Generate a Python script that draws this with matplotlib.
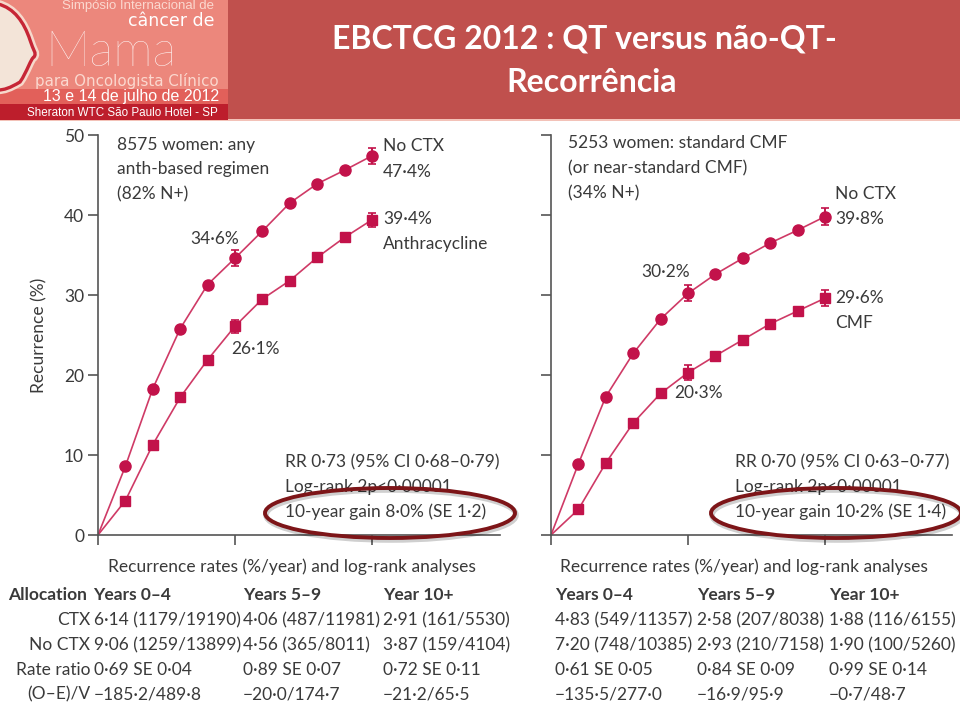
import matplotlib
matplotlib.use("Agg")
import matplotlib.pyplot as plt
from matplotlib.patches import Rectangle, Ellipse, PathPatch
from matplotlib.path import Path

# ---------------- data ----------------
years = [0, 1, 2, 3, 4, 5, 6, 7, 8, 9, 10]
left_noctx = [0, 8.6, 18.3, 25.8, 31.3, 34.6, 38.0, 41.5, 43.9, 45.6, 47.4]
left_anth = [0, 4.3, 11.3, 17.2, 21.9, 26.1, 29.5, 31.8, 34.7, 37.2, 39.4]
right_noctx = [0, 8.9, 17.3, 22.7, 27.0, 30.2, 32.6, 34.6, 36.5, 38.1, 39.8]
right_cmf = [0, 3.2, 9.0, 14.0, 17.7, 20.3, 22.4, 24.4, 26.4, 28.0, 29.6]
err_years = [5, 10]
left_noctx_err = [1.0, 1.0]
left_anth_err = [0.8, 0.9]
right_noctx_err = [1.0, 1.1]
right_cmf_err = [0.9, 1.0]
yticks = [0, 10, 20, 30, 40, 50]
xticks = [0, 5, 10]

left_header = ["Allocation", "Years 0\u20134", "Years 5\u20139", "Year 10+"]
row_labels = ["CTX", "No CTX", "Rate ratio", "(O\u2013E)/V"]
left_rows = [
    ["6\u00b714 (1179/19190)", "4\u00b706 (487/11981)", "2\u00b791 (161/5530)"],
    ["9\u00b706 (1259/13899)", "4\u00b756 (365/8011)", "3\u00b787 (159/4104)"],
    ["0\u00b769 SE 0\u00b704", "0\u00b789 SE 0\u00b707", "0\u00b772 SE 0\u00b711"],
    ["\u2212185\u00b72/489\u00b78", "\u221220\u00b70/174\u00b77", "\u221221\u00b72/65\u00b75"],
]
right_header = ["Years 0\u20134", "Years 5\u20139", "Year 10+"]
right_rows = [
    ["4\u00b783 (549/11357)", "2\u00b758 (207/8038)", "1\u00b788 (116/6155)"],
    ["7\u00b720 (748/10385)", "2\u00b793 (210/7158)", "1\u00b790 (100/5260)"],
    ["0\u00b761 SE 0\u00b705", "0\u00b784 SE 0\u00b709", "0\u00b799 SE 0\u00b714"],
    ["\u2212135\u00b75/277\u00b70", "\u221216\u00b79/95\u00b79", "\u22120\u00b77/48\u00b77"],
]

W, H = 960, 707
fig = plt.figure(figsize=(W / 100, H / 100), dpi=100)
fig.patch.set_facecolor("white")


def fx(x):
    return x / W


def fy(y):
    return 1 - y / H


FONT = ["Lato", "DejaVu Sans"]
TXT = "#3a3a3a"
RED = "#c2124a"
LINE = "#cf3a66"

# ---------------- header ----------------
fig.patches.append(Rectangle((0, fy(120)), 1, 120 / H, transform=fig.transFigure,
                             facecolor="#c0504d", edgecolor="none", zorder=0))
fig.patches.append(Rectangle((0, fy(121)), 1, 2 / H, transform=fig.transFigure,
                             facecolor="#f3c2b8", edgecolor="none", zorder=0))
# logo
fig.patches.append(Rectangle((0, fy(120)), fx(228), 120 / H, transform=fig.transFigure,
                             facecolor="#ec877c", edgecolor="none", zorder=1))
fig.patches.append(Rectangle((0, fy(104)), fx(228), 15 / H, transform=fig.transFigure,
                             facecolor="#e2605a", edgecolor="none", zorder=1))
fig.patches.append(Rectangle((0, fy(120)), fx(228), 16 / H, transform=fig.transFigure,
                             facecolor="#bd1e2c", edgecolor="none", zorder=1))


def P(x, y):
    return (fx(x), fy(y))


verts = [P(-2, 4), P(14, 8), P(24, 22), P(30, 40), P(33, 50), P(37, 53),
         P(34, 57), P(31, 58), P(27, 72), P(20, 82), P(10, 88), P(4, 90), P(-2, 90), P(-2, 4)]
codes = [Path.MOVETO, Path.CURVE4, Path.CURVE4, Path.CURVE4, Path.CURVE4, Path.CURVE4,
         Path.CURVE4, Path.CURVE4, Path.CURVE4, Path.CURVE4, Path.CURVE4, Path.CURVE4,
         Path.LINETO, Path.CLOSEPOLY]
path = Path(verts, codes)
fig.patches.append(PathPatch(path, transform=fig.transFigure, facecolor="none",
                             edgecolor="#f6d9cc", lw=6, zorder=2))
fig.patches.append(PathPatch(path, transform=fig.transFigure, facecolor="#f3e4d8",
                             edgecolor="#c62636", lw=2.4, zorder=2))

fig.text(fx(214), fy(6.5), "Simp\u00f3sio Internacional de", ha="right", va="center",
         fontsize=9.5, color="#fbd8cf", family=["Liberation Sans", "DejaVu Sans"], zorder=3)
fig.text(fx(214), fy(21.5), "c\u00e2ncer de", ha="right", va="center",
         fontsize=12.5, color="white", family=["DejaVu Sans"], zorder=3)
fig.text(fx(45), fy(66), "Mama", ha="left", va="baseline",
         fontsize=36, color="white", family=["Lato", "DejaVu Sans"], fontweight="light", zorder=3)
fig.text(fx(219), fy(81), "para Oncologista Cl\u00ednico", ha="right", va="center",
         fontsize=10.8, color="#fbd8cf", family=["DejaVu Sans"], zorder=3)
fig.text(fx(219), fy(96.5), "13 e 14 de julho de 2012", ha="right", va="center",
         fontsize=11.5, color="white", family=["Liberation Sans", "DejaVu Sans"], zorder=3)
fig.text(fx(218), fy(112.5), "Sheraton WTC S\u00e3o Paulo Hotel - SP", ha="right", va="center",
         fontsize=8.4, color="white", family=["Liberation Sans", "DejaVu Sans"], zorder=3)

# title
fig.text(fx(584), fy(39), "EBCTCG 2012 : QT versus n\u00e3o-QT-", ha="center", va="center",
         fontsize=23, color="white", fontweight="bold", family=["Lato", "DejaVu Sans"], zorder=3)
fig.text(fx(592), fy(83), "Recorr\u00eancia", ha="center", va="center",
         fontsize=23, color="white", fontweight="bold", family=["Lato", "DejaVu Sans"], zorder=3)


# ---------------- panels ----------------
def make_ax(x0, x1):
    ax = fig.add_axes([fx(x0), fy(535), fx(x1 - x0), 400 / H])
    ax.set_xlim(0, (x1 - x0) / 27.4)
    ax.set_ylim(0, 50)
    for s in ["top", "right"]:
        ax.spines[s].set_visible(False)
    for s in ["left", "bottom"]:
        ax.spines[s].set_color("#555555")
        ax.spines[s].set_linewidth(1.2)
    ax.set_xticks(xticks)
    ax.set_xticklabels([])
    ax.set_yticks(yticks)
    ax.tick_params(direction="out", length=7, width=1.2, color="#555555",
                   labelsize=12.5, labelcolor=TXT, pad=3)
    ax.patch.set_alpha(0)
    for lab in ax.get_yticklabels():
        lab.set_family(FONT)
    return ax


def draw_series(ax, y_vals, marker, ms, errs):
    ax.plot(years, y_vals, color=LINE, lw=1.2, zorder=2)
    ax.plot(years[1:], y_vals[1:], ls="none", marker=marker, ms=ms,
            color=RED, mec=RED, zorder=3)
    ev = [y_vals[years.index(e)] for e in err_years]
    ax.errorbar(err_years, ev, yerr=errs, fmt="none", ecolor=RED, elinewidth=1.4,
                capsize=3, capthick=1.2, zorder=3)


axL = make_ax(98, 500)
draw_series(axL, left_noctx, "o", 8, left_noctx_err)
draw_series(axL, left_anth, "s", 7, left_anth_err)
axL.set_ylabel("Recurrence (%)", fontsize=12.5, color=TXT, family=FONT, labelpad=12)

axR = make_ax(551, 952)
draw_series(axR, right_noctx, "o", 8, right_noctx_err)
draw_series(axR, right_cmf, "s", 7, right_cmf_err)
axR.set_yticklabels([])

FS = 12.5


def t(x, y, s, **kw):
    d = dict(ha="left", va="center", fontsize=FS, color=TXT, family=FONT)
    d.update(kw)
    fig.text(fx(x), fy(y), s, **d)


# left annotations
t(117, 145, "8575 women: any")
t(117, 169, "anth-based regimen")
t(117, 194, "(82% N+)")
t(383, 146, "No CTX")
t(383, 172, "47\u00b74%")
t(383, 219, "39\u00b74%")
t(383, 244, "Anthracycline")
t(190, 239, "34\u00b76%")
t(231, 349, "26\u00b71%")
t(285, 462, "RR 0\u00b773 (95% CI 0\u00b768\u20130\u00b779)")
t(285, 487, "Log-rank 2p<0\u00b700001")
t(285, 512, "10-year gain 8\u00b70% (SE 1\u00b72)")
t(108, 567, "Recurrence rates (%/year) and log-rank analyses")

# right annotations
t(568, 143, "5253 women: standard CMF")
t(568, 168, "(or near-standard CMF)")
t(568, 193, "(34% N+)")
t(835, 194, "No CTX")
t(835, 219, "39\u00b78%")
t(835, 298, "29\u00b76%")
t(835, 323, "CMF")
t(641, 272, "30\u00b72%")
t(674, 393, "20\u00b73%")
t(735, 462, "RR 0\u00b770 (95% CI 0\u00b763\u20130\u00b777)")
t(735, 487, "Log-rank 2p<0\u00b700001")
t(735, 512, "10-year gain 10\u00b72% (SE 1\u00b74)")
t(560, 567, "Recurrence rates (%/year) and log-rank analyses")

# tables
row_y = [620, 645, 670, 694]
t(8, 595, left_header[0], fontweight="bold")
for x, s in zip([93, 243, 383], left_header[1:]):
    t(x, 595, s, fontweight="bold")
for y, lab, vals in zip(row_y, row_labels, left_rows):
    t(90, y, lab, ha="right")
    for x, s in zip([94, 243, 383], vals):
        t(x, y, s)
for x, s in zip([555, 697, 829], right_header):
    t(x, 595, s, fontweight="bold")
for y, vals in zip(row_y, right_rows):
    for x, s in zip([555, 697, 829], vals):
        t(x, y, s)

# highlight ellipses
for cx in [390, 836]:
    fig.patches.append(Ellipse((fx(cx + 1), fy(515)), fx(250), 50 / H,
                               transform=fig.transFigure, facecolor="none",
                               edgecolor="#00000030", lw=4, zorder=9))
    fig.patches.append(Ellipse((fx(cx), fy(513)), fx(250), 50 / H,
                               transform=fig.transFigure, facecolor="none",
                               edgecolor="#7d1518", lw=2.8, zorder=10))

fig.savefig("out.png", dpi=100)
